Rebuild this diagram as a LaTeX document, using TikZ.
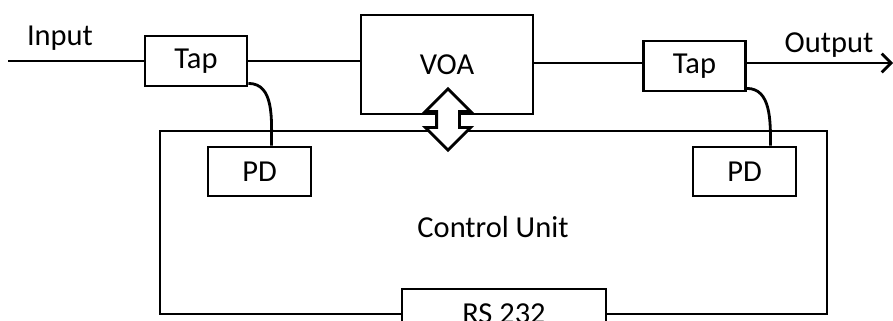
\documentclass[tikz,border=0pt]{standalone}
\usepackage{fontspec}
\setmainfont{Carlito}
\usetikzlibrary{arrows.meta,positioning,shapes.arrows}

\begin{document}
\begin{tikzpicture}[
                x=0.015cm, y=-0.015cm,
                line width=1.2pt,
                font=\fontsize{13}{15}\selectfont,
                block/.style={
                        draw=black,
                        fill=white,
                        inner sep=0pt,
                        align=center
                    },
                tapbox/.style={block, minimum width=1.53cm, minimum height=0.75cm},
                pdbox/.style={block, minimum width=1.545cm, minimum height=0.735cm},
                fibre/.style={draw=black, line width=1.2pt},
                bus/.style={
                        double arrow, draw=black, fill=white,
                        line width=1.2pt, inner sep=0.15cm,
                        minimum width=0.66cm, minimum height=0.92cm,
                        double arrow head extend=0.17cm,
                        shape border rotate=90
                    }
            ]

            \useasboundingbox (0,0) rectangle (893,320);
            \clip (0,0) rectangle (893,320);

            % Unidad de control
            \node[block, minimum width=10.005cm, minimum height=2.745cm] (ctrl) at (493.5,222.5) {};
            \node (ctrltext) at (493,227) {Control Unit};
            \node[tapbox, minimum width=3.06cm] (rs) at (504,314) {RS 232};

            % Camino optico
            \coordinate (in) at (8,61);
            \coordinate (out) at (893,63);
            \node[tapbox] (tapin) at (196,61) {Tap};
            \node[block, minimum width=2.58cm, minimum height=1.485cm] (voa) at (447,64.5) {VOA};
            \node[tapbox] (tapout) at (694.5,66) {Tap};
            \node (inlabel) at (60,38) {Input};
            \node (outlabel) at (829,45) {Output};

            \draw[fibre] (in) -- (tapin.west);
            \draw[fibre] (tapin.east) -- (tapin.east -| voa.west);
            \draw[fibre] (voa.east |- out) -- (tapout.west |- out);
            \draw[fibre, -{Straight Barb[length=4pt]}] (tapout.east |- out) -- (out);

            % Fotodiodos
            \node[pdbox] (pdin) at (259.5,171.5) {PD};
            \node[pdbox] (pdout) at (744.5,171.5) {PD};
            \draw[fibre] ([yshift=0.06cm]tapin.south east) to[out=0, in=90] ([xshift=0.18cm]pdin.north);
            \draw[fibre] ([yshift=0.06cm]tapout.south east) to[out=0, in=90] ([xshift=0.39cm]pdout.north);

            % Enlace VOA - control
            \node[bus] (link) at (448,119.5) {};

        \end{tikzpicture}
\end{document}
